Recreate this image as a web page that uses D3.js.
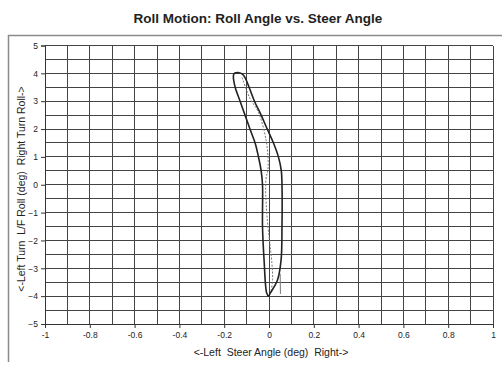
<!DOCTYPE html>
<html>
<head>
<meta charset="utf-8">
<script src="https://cdn.jsdelivr.net/npm/d3@7"></script>
<style>
  html, body { margin: 0; padding: 0; background: #fff; }
  svg { display: block; }
  text { font-family: "Liberation Sans", Arial, sans-serif; fill: #222; }
</style>
</head>
<body>
<svg id="chart" width="502" height="367"></svg>
<script>
// Steer angle (deg) and roll angle (deg), main recorded loop
const steerMain = [-0.138, -0.155, -0.159, -0.151, -0.129, -0.107, -0.085, -0.062, -0.047, -0.035, -0.029, -0.029, -0.022, -0.010, -0.002, 0.005, 0.038, 0.054, 0.058, 0.058, 0.055, 0.042, 0.020, -0.008, -0.035, -0.065, -0.107, -0.120, -0.138];
const rollMain  = [4.03, 4.00, 3.90, 3.50, 3.00, 2.50, 2.00, 1.50, 1.00, 0.50, 0.00, -1.50, -2.70, -3.90, -4.00, -3.90, -3.42, -2.70, -1.50, 0.00, 0.50, 1.00, 1.50, 2.00, 2.50, 3.00, 3.85, 3.98, 4.03];

// Second, lighter pass through the middle of the loop
const steerInner = [-0.120, -0.085, -0.047, -0.012, -0.004, -0.014, -0.010, 0.013, 0.016, 0.010];
const rollInner  = [3.85, 3.10, 2.60, 1.55, 0.60, 0.17, -1.02, -2.82, -3.40, -3.80];

// Short trace near the bottom right
const steerTail = [0.050, 0.051];
const rollTail  = [-3.20, -3.92];

// Axis ticks
const xTicks = [-1, -0.8, -0.6, -0.4, -0.2, 0, 0.2, 0.4, 0.6, 0.8, 1];
const xTickLabels = ["-1", "-0.8", "-0.6", "-0.4", "-0.2", "0", "0.2", "0.4", "0.6", "0.8", "1"];
const yTicks = [-5, -4, -3, -2, -1, 0, 1, 2, 3, 4, 5];
const xGrid = d3.range(-1, 1.0001, 0.1);
const yGrid = d3.range(-5, 5.0001, 0.5);

const svg = d3.select("#chart");
const plot = { left: 45, right: 493, top: 45.5, bottom: 324 };

const x = d3.scaleLinear().domain([-1, 1]).range([plot.left, plot.right]);
const y = d3.scaleLinear().domain([-5, 5]).range([plot.bottom, plot.top]);

// outer chart frame
svg.append("line").attr("x1", 8).attr("x2", 502).attr("y1", 35.5).attr("y2", 35.5)
  .attr("stroke", "#8a8a8a").attr("stroke-width", 1.5);
svg.append("line").attr("x1", 8.5).attr("x2", 8.5).attr("y1", 35).attr("y2", 362)
  .attr("stroke", "#8a8a8a").attr("stroke-width", 1.5);

// title
svg.append("text").attr("x", 258).attr("y", 23).attr("text-anchor", "middle")
  .style("font-size", "13.5px").style("font-weight", "bold")
  .text("Roll Motion: Roll Angle vs. Steer Angle");

// grid
const grid = svg.append("g").attr("stroke", "#444").attr("stroke-width", 1).attr("shape-rendering", "crispEdges");
grid.selectAll("line.v").data(xGrid).join("line").attr("class", "v")
  .attr("x1", d => x(d)).attr("x2", d => x(d)).attr("y1", plot.top).attr("y2", plot.bottom);
grid.selectAll("line.h").data(yGrid).join("line").attr("class", "h")
  .attr("x1", plot.left).attr("x2", plot.right).attr("y1", d => y(d)).attr("y2", d => y(d));

// axes
const xAxis = d3.axisBottom(x).tickValues(xTicks).tickSize(4).tickPadding(4)
  .tickFormat((d, i) => xTickLabels[i]);
const yAxis = d3.axisLeft(y).tickValues(yTicks).tickSize(4).tickPadding(3)
  .tickFormat(d3.format("d"));

const gx = svg.append("g").attr("transform", `translate(0,${plot.bottom})`).call(xAxis);
const gy = svg.append("g").attr("transform", `translate(${plot.left},0)`).call(yAxis);
[gx, gy].forEach(g => {
  g.select(".domain").attr("stroke", "#333");
  g.selectAll(".tick line").attr("stroke", "#333");
  g.selectAll(".tick text").style("font-size", "8.5px").style("font-family", "Liberation Sans, Arial, sans-serif").attr("fill", "#333");
});

// axis titles
svg.append("text").attr("x", 271).attr("y", 356).attr("text-anchor", "middle")
  .style("font-size", "10.5px").attr("xml:space", "preserve")
  .text("<-Left  Steer Angle (deg)  Right->");
svg.append("text").attr("transform", `translate(25,189) rotate(-90)`)
  .attr("text-anchor", "middle").style("font-size", "10.5px").attr("xml:space", "preserve")
  .text("<-Left Turn  L/F Roll (deg)  Right Turn Roll->");

// traces
const line = d3.line().x(d => x(d[0])).y(d => y(d[1])).curve(d3.curveCatmullRom.alpha(0.5));

svg.append("path").datum(d3.zip(steerInner, rollInner)).attr("d", line)
  .attr("fill", "none").attr("stroke", "#777").attr("stroke-width", 1).attr("stroke-dasharray", "2,1.5");
svg.append("path").datum(d3.zip(steerTail, rollTail)).attr("d", d3.line().x(d => x(d[0])).y(d => y(d[1])))
  .attr("fill", "none").attr("stroke", "#777").attr("stroke-width", 1);
svg.append("path").datum(d3.zip(steerMain, rollMain)).attr("d", line)
  .attr("fill", "none").attr("stroke", "#222").attr("stroke-width", 1.6);
</script>
</body>
</html>
